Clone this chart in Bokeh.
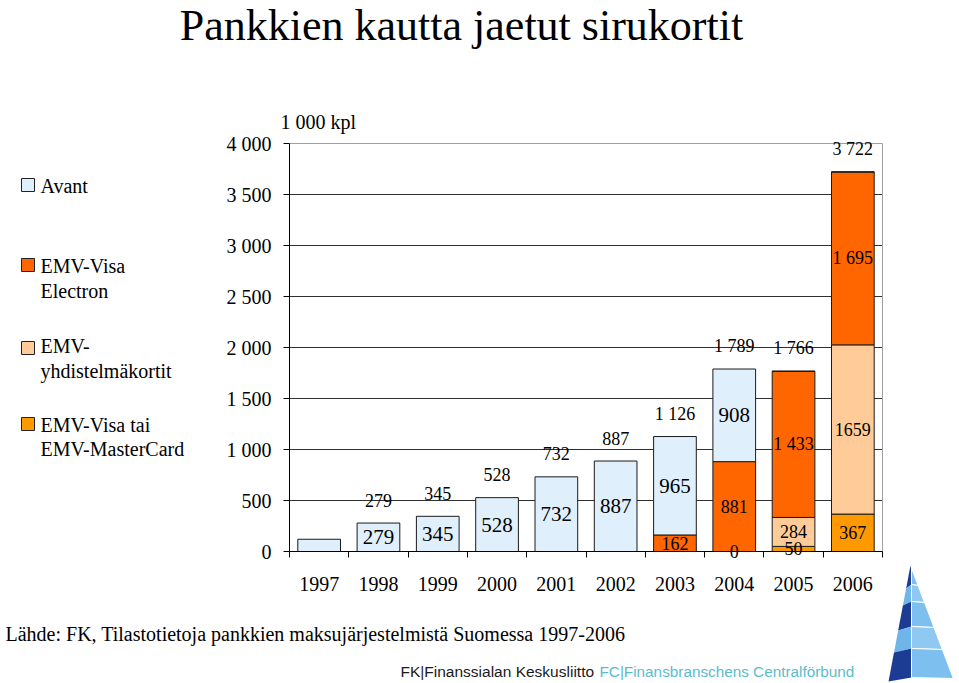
from bokeh.plotting import figure
from bokeh.models import (Range1d, FixedTicker, ColumnDataSource, LabelSet, Label,
                          BoxAnnotation, PolyAnnotation)
from bokeh.embed import file_html
from bokeh.resources import INLINE

# ---------------- data ----------------
years = ["1997", "1998", "1999", "2000", "2001", "2002", "2003", "2004", "2005", "2006"]
visa_mc = [0, 0, 0, 0, 0, 0, 0, 0, 50, 367]            # EMV-Visa tai EMV-MasterCard
yhdistelma = [0, 0, 0, 0, 0, 0, 0, 0, 284, 1659]        # EMV-yhdistelmäkortit
visa_electron = [0, 0, 0, 0, 0, 0, 162, 881, 1433, 1695]  # EMV-Visa Electron
avant = [120, 279, 345, 528, 732, 887, 965, 908, 0, 0]  # Avant

visa_mc_labels = ["", "", "", "", "", "", "", "0", "50", "367"]
yhdistelma_labels = ["", "", "", "", "", "", "", "", "284", "1659"]
visa_electron_labels = ["", "", "", "", "", "", "162", "881", "1 433", "1 695"]
avant_labels = ["", "279", "345", "528", "732", "887", "965", "908", "", ""]
total_labels = ["", "279", "345", "528", "732", "887", "1 126", "1 789", "1 766", "3 722"]

y_ticks = [0, 500, 1000, 1500, 2000, 2500, 3000, 3500, 4000]
y_tick_labels = ["0", "500", "1 000", "1 500", "2 000", "2 500", "3 000", "3 500", "4 000"]

series_keys = ["visa_mc", "yhdistelma", "visa_electron", "avant"]
series_colors = ["#FF9900", "#FFCC99", "#FF6600", "#DFF0FC"]
legend_entries = [
    ("avant", ["Avant"]),
    ("visa_electron", ["EMV-Visa", "Electron"]),
    ("yhdistelma", ["EMV-", "yhdistelmäkortit"]),
    ("visa_mc", ["EMV-Visa tai", "EMV-MasterCard"]),
]

title_text = "Pankkien kautta jaetut sirukortit"
unit_text = "1 000 kpl"
source_text = "Lähde: FK, Tilastotietoja pankkien maksujärjestelmistä Suomessa 1997-2006"
footer_fk = "FK|Finanssialan Keskusliitto"
footer_fc = "FC|Finansbranschens Centralförbund"

# ---------------- layout geometry (pixels) ----------------
W, H = 959, 683
FX0, FX1 = 289, 882      # plot area left / right
FY0, FY1 = 551, 143      # plot area bottom (value 0) / top (value 4000)
XMAX, YMAX = 10, 4000
SERIF = "Liberation Serif"


def xd(px):
    return (px - FX0) / (FX1 - FX0) * XMAX


def yd(py):
    return (FY0 - py) / (FY0 - FY1) * YMAX


n = len(years)
xs = [i + 0.5 for i in range(n)]

source = ColumnDataSource(dict(x=xs, visa_mc=visa_mc, yhdistelma=yhdistelma,
                               visa_electron=visa_electron, avant=avant))

# the frame covers the whole canvas; axes sit at fixed data locations
p = figure(width=W, height=H, x_range=Range1d(xd(0), xd(W)), y_range=Range1d(yd(H), yd(0)),
           min_border=0, output_backend="svg", toolbar_location=None)
p.min_border_left = p.min_border_right = p.min_border_top = p.min_border_bottom = 0
p.background_fill_color = "white"
p.border_fill_color = "white"
p.outline_line_color = None
p.xgrid.visible = False
p.ygrid.visible = False

# grid lines and plot-area border
grid_y = y_ticks[1:-1]
p.segment(x0=[0] * len(grid_y), x1=[XMAX] * len(grid_y), y0=grid_y, y1=grid_y,
          line_color="#303030", line_width=1)
p.segment(x0=[0, XMAX], x1=[XMAX, XMAX], y0=[YMAX, 0], y1=[YMAX, YMAX],
          line_color="#A0A0A0", line_width=1)

# bars
p.vbar_stack(series_keys, x="x", width=0.72, source=source,
             fill_color=series_colors, line_color="#1a1a1a", line_width=1)

# axes
xax = p.xaxis[0]
xax.fixed_location = 0
xax.bounds = (0, XMAX)
xax.ticker = FixedTicker(ticks=xs, minor_ticks=list(range(n + 1)))
xax.major_label_overrides = {x: y for x, y in zip(xs, years)}
xax.major_tick_out = 0
xax.major_tick_in = 0
xax.minor_tick_out = 6
xax.minor_tick_in = 0
xax.minor_tick_line_color = "black"
xax.axis_line_color = "black"
xax.major_label_standoff = 19
xax.major_label_text_font = SERIF
xax.major_label_text_font_size = "20px"
xax.major_label_text_color = "black"

yax = p.yaxis[0]
yax.fixed_location = 0
yax.bounds = (0, YMAX)
yax.ticker = FixedTicker(ticks=y_ticks)
yax.major_label_overrides = {t: s for t, s in zip(y_ticks, y_tick_labels)}
yax.major_tick_out = 6
yax.major_tick_in = 0
yax.minor_tick_out = 0
yax.minor_tick_in = 0
yax.axis_line_color = "black"
yax.major_tick_line_color = "black"
yax.major_label_standoff = 12
yax.major_label_text_font = SERIF
yax.major_label_text_font_size = "20px"
yax.major_label_text_color = "black"

# segment labels
stack_vals = [visa_mc, yhdistelma, visa_electron, avant]
stack_labels = [visa_mc_labels, yhdistelma_labels, visa_electron_labels, avant_labels]
stack_sizes = ["18px", "18px", "18px", "21px"]
bottoms = [0] * n
for vals, labs, size in zip(stack_vals, stack_labels, stack_sizes):
    mids = [b + v / 2 for b, v in zip(bottoms, vals)]
    bottoms = [b + v for b, v in zip(bottoms, vals)]
    src = ColumnDataSource(dict(x=xs, y=mids, text=labs))
    p.add_layout(LabelSet(x="x", y="y", text="text", source=src,
                          text_align="center", text_baseline="middle",
                          text_font=SERIF, text_font_size=size, text_color="black"))

tot_src = ColumnDataSource(dict(x=xs, y=bottoms, text=total_labels))
p.add_layout(LabelSet(x="x", y="y", text="text", source=tot_src, y_offset=23,
                      text_align="center", text_baseline="middle",
                      text_font=SERIF, text_font_size="18px", text_color="black"))

# title, unit, source, footer
p.add_layout(Label(x=xd(461), y=yd(25), text=title_text, text_align="center",
                   text_baseline="middle", text_font=SERIF, text_font_size="44px",
                   text_color="black"))
p.add_layout(Label(x=xd(280), y=yd(121), text=unit_text, text_align="left",
                   text_baseline="middle", text_font=SERIF, text_font_size="20px",
                   text_color="black"))
p.add_layout(Label(x=xd(5), y=yd(633), text=source_text, text_align="left",
                   text_baseline="middle", text_font=SERIF, text_font_size="20px",
                   text_color="black"))
p.add_layout(Label(x=xd(400), y=yd(671), text=footer_fk, text_align="left",
                   text_baseline="middle", text_font="Liberation Sans", text_font_size="15.5px",
                   text_color="#1a1a1a"))
p.add_layout(Label(x=xd(599), y=yd(671), text=footer_fc, text_align="left",
                   text_baseline="middle", text_font="Liberation Sans", text_font_size="15.3px",
                   text_color="#5BBCCB"))

# legend (manual)
color_of = dict(zip(series_keys, series_colors))
legend_square_tops = [178, 258, 341, 417]
legend_line_centers = [[185], [265, 290], [345, 370], [424, 448]]
for (key, lines), top, centers in zip(legend_entries, legend_square_tops, legend_line_centers):
    p.add_layout(BoxAnnotation(left=xd(21), right=xd(34), top=yd(top), bottom=yd(top + 13),
                               fill_color=color_of[key], fill_alpha=1,
                               line_color="#222222", line_alpha=1, line_width=1))
    for txt, cy in zip(lines, centers):
        p.add_layout(Label(x=xd(40), y=yd(cy), text=txt, text_align="left",
                           text_baseline="middle", text_font=SERIF, text_font_size="20px",
                           text_color="black"))

# decorative logo (pyramid)
apex = (910, 565)
base_l = (888, 681)
base_r = (954, 681)
mid_x = 911


def edge_x(a, b, py):
    t = (py - a[1]) / (b[1] - a[1])
    return a[0] + t * (b[0] - a[0])


bands = [565, 588, 605, 630, 652, 681]
left_cols = ["#1B3C92", "#6EB5EA", "#1B3C92", "#6EB5EA", "#1B3C92"]
right_cols = ["#7DBFEE", "#8FC9F2", "#7DBFEE", "#8FC9F2", "#7DBFEE"]
for i in range(len(bands) - 1):
    ya, yb = bands[i], bands[i + 1]
    lxa, lxb = edge_x(apex, base_l, ya), edge_x(apex, base_l, yb)
    rxa, rxb = edge_x(apex, base_r, max(ya - 3, apex[1])), edge_x(apex, base_r, yb - 3)
    p.add_layout(PolyAnnotation(xs=[xd(lxa), xd(mid_x), xd(mid_x), xd(lxb)],
                                ys=[yd(ya), yd(max(ya - 4, apex[1])), yd(yb - 4), yd(yb)],
                                fill_color=left_cols[i], fill_alpha=1, line_alpha=0))
    p.add_layout(PolyAnnotation(xs=[xd(mid_x), xd(rxa), xd(rxb), xd(mid_x)],
                                ys=[yd(max(ya - 4, apex[1])), yd(max(ya - 3, apex[1])),
                                    yd(yb - 3), yd(yb - 4)],
                                fill_color=right_cols[i], fill_alpha=1,
                                line_color="white", line_alpha=1, line_width=1))

open("out.html", "w").write(file_html(p, INLINE))
